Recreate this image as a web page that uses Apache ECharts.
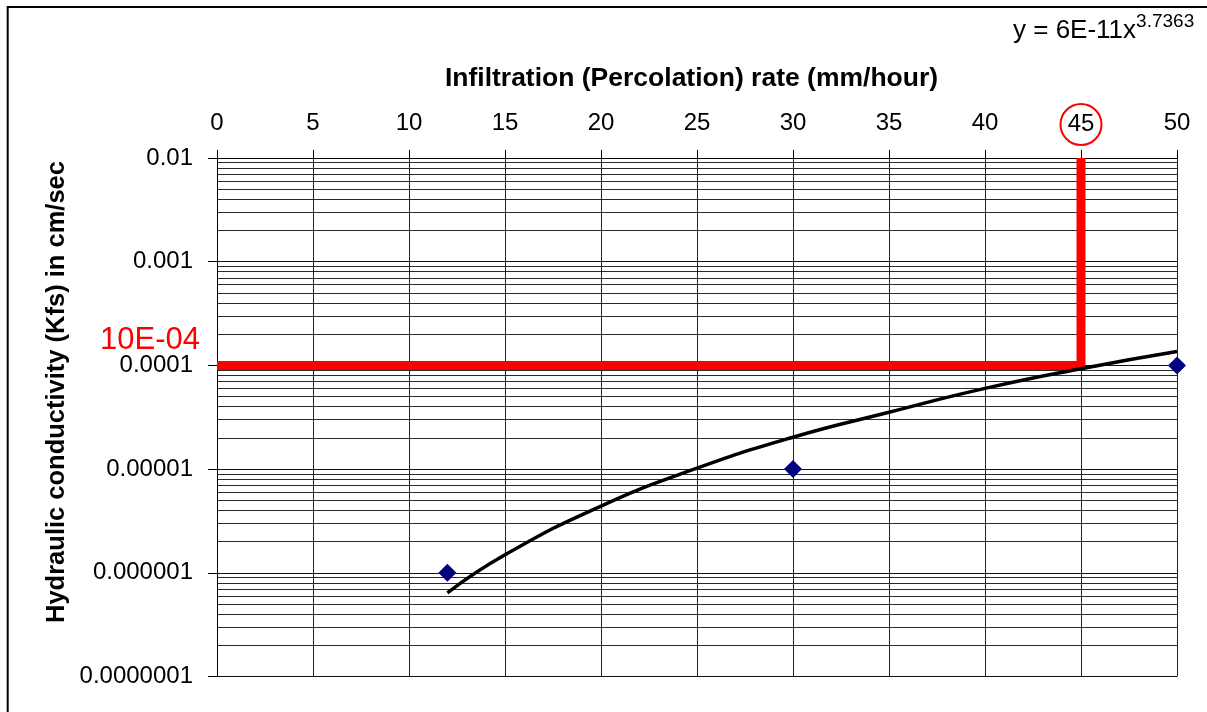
<!DOCTYPE html>
<html><head><meta charset="utf-8">
<script src="https://cdn.jsdelivr.net/npm/echarts@6/dist/echarts.min.js"></script>
<style>html,body{margin:0;padding:0;background:#fff}#c{width:1207px;height:712px}</style>
</head><body><div id="c"></div>
<script>
// ---- data ----
const xTicks = [0,5,10,15,20,25,30,35,40,45,50];
const yTickLabels = ['0.0000001','0.000001','0.00001','0.0001','0.001','0.01'];
const measX = [12, 30, 50];
const measY = [1e-6, 1e-5, 1e-4];
const trendX = [12, 15, 20, 25, 30, 35, 40, 45, 50];
const trendY = [6.4e-7, 1.49e-6, 4.4e-6, 1.02e-5, 2.03e-5, 3.53e-5, 6.0e-5, 9.3e-5, 1.36e-4];
const targetK = 1e-4;     // 10E-04 cm/sec
const targetRate = 45;    // mm/hour
const yMin = 1e-7, yMax = 1e-2;
const highlightTick = 45;
// ---------------

const FONT = "'Liberation Sans', Arial, sans-serif";

const chart = echarts.init(document.getElementById('c'), null, {renderer: 'canvas'});
chart.setOption({
  animation: false,
  backgroundColor: '#fff',
  grid: {left: 217, top: 158, width: 960, height: 518.5},
  xAxis: {
    type: 'value', position: 'top', min: 0, max: 50, interval: 5,
    axisLine: {show: true, lineStyle: {color: '#000', width: 1}},
    axisTick: {show: true, inside: false, length: 8, lineStyle: {color: '#000'}},
    splitLine: {show: true, lineStyle: {color: '#222', width: 1}},
    axisLabel: {
      margin: 13, color: '#000', fontFamily: FONT, fontSize: 24,
      formatter: v => (v === highlightTick ? '{c|' + v + '}' : '{n|' + v + '}'),
      rich: {
        n: {fontFamily: FONT, fontSize: 24, color: '#000', height: 43, lineHeight: 43},
        c: {fontFamily: FONT, fontSize: 24, color: '#000', height: 41, lineHeight: 41, width: 41, align: 'center',
            borderColor: '#ff0000', borderWidth: 2, borderRadius: 22}
      }
    }
  },
  yAxis: {
    type: 'log', logBase: 10, min: yMin, max: yMax, splitNumber: 5,
    axisLine: {show: true, lineStyle: {color: '#000', width: 1}},
    axisTick: {show: true, inside: false, length: 9, lineStyle: {color: '#000'}},
    minorTick: {show: false, splitNumber: 9},
    splitLine: {show: true, lineStyle: {color: '#111', width: 1}},
    minorSplitLine: {show: true, lineStyle: {color: '#2a2a2a', width: 1}},
    axisLabel: {
      margin: 24, color: '#000', fontFamily: FONT, fontSize: 24,
      formatter: v => yTickLabels[Math.round(Math.log10(v)) + 7]
    }
  },
  series: [
    {
      type: 'line', silent: true, symbol: 'none', z: 4,
      lineStyle: {color: '#ff0000', width: 9, join: 'miter', cap: 'butt'},
      data: [[0, targetK], [targetRate, targetK], [targetRate, yMax]]
    },
    {
      type: 'line', silent: true, symbol: 'none', smooth: true, z: 5,
      lineStyle: {color: '#000', width: 3.5},
      data: trendX.map((x, i) => [x, trendY[i]])
    },
    {
      type: 'scatter', silent: true, symbol: 'diamond', symbolSize: 18, z: 6,
      itemStyle: {color: '#000080', opacity: 1},
      data: measX.map((x, i) => [x, measY[i]])
    }
  ],
  graphic: [
    {type: 'rect', shape: {x: 7.7, y: 7, width: 1300, height: 800}, style: {fill: 'none', stroke: '#000', lineWidth: 2}, z: 100},
    {type: 'text', x: 691.5, y: 79, style: {text: 'Infiltration (Percolation) rate (mm/hour)', font: 'bold 26.5px ' + FONT, fill: '#000', align: 'center', verticalAlign: 'middle'}},
    {type: 'text', x: 57, y: 392, rotation: Math.PI / 2, style: {text: 'Hydraulic conductivity (Kfs) in cm/sec', font: 'bold 25.5px ' + FONT, fill: '#000', align: 'center', verticalAlign: 'middle'}},
    {type: 'text', x: 200, y: 340, style: {text: '10E-04', font: '31px ' + FONT, fill: '#ff0000', align: 'right', verticalAlign: 'middle'}},
    {type: 'text', x: 1013, y: 28, style: {
      text: '{a|y = 6E-11x}{b|3.7363}', verticalAlign: 'middle',
      rich: {a: {font: '26px ' + FONT, fill: '#000', verticalAlign: 'bottom', lineHeight: 32},
             b: {font: '19px ' + FONT, fill: '#000', verticalAlign: 'top', lineHeight: 32}}
    }}
  ]
});
</script></body></html>
